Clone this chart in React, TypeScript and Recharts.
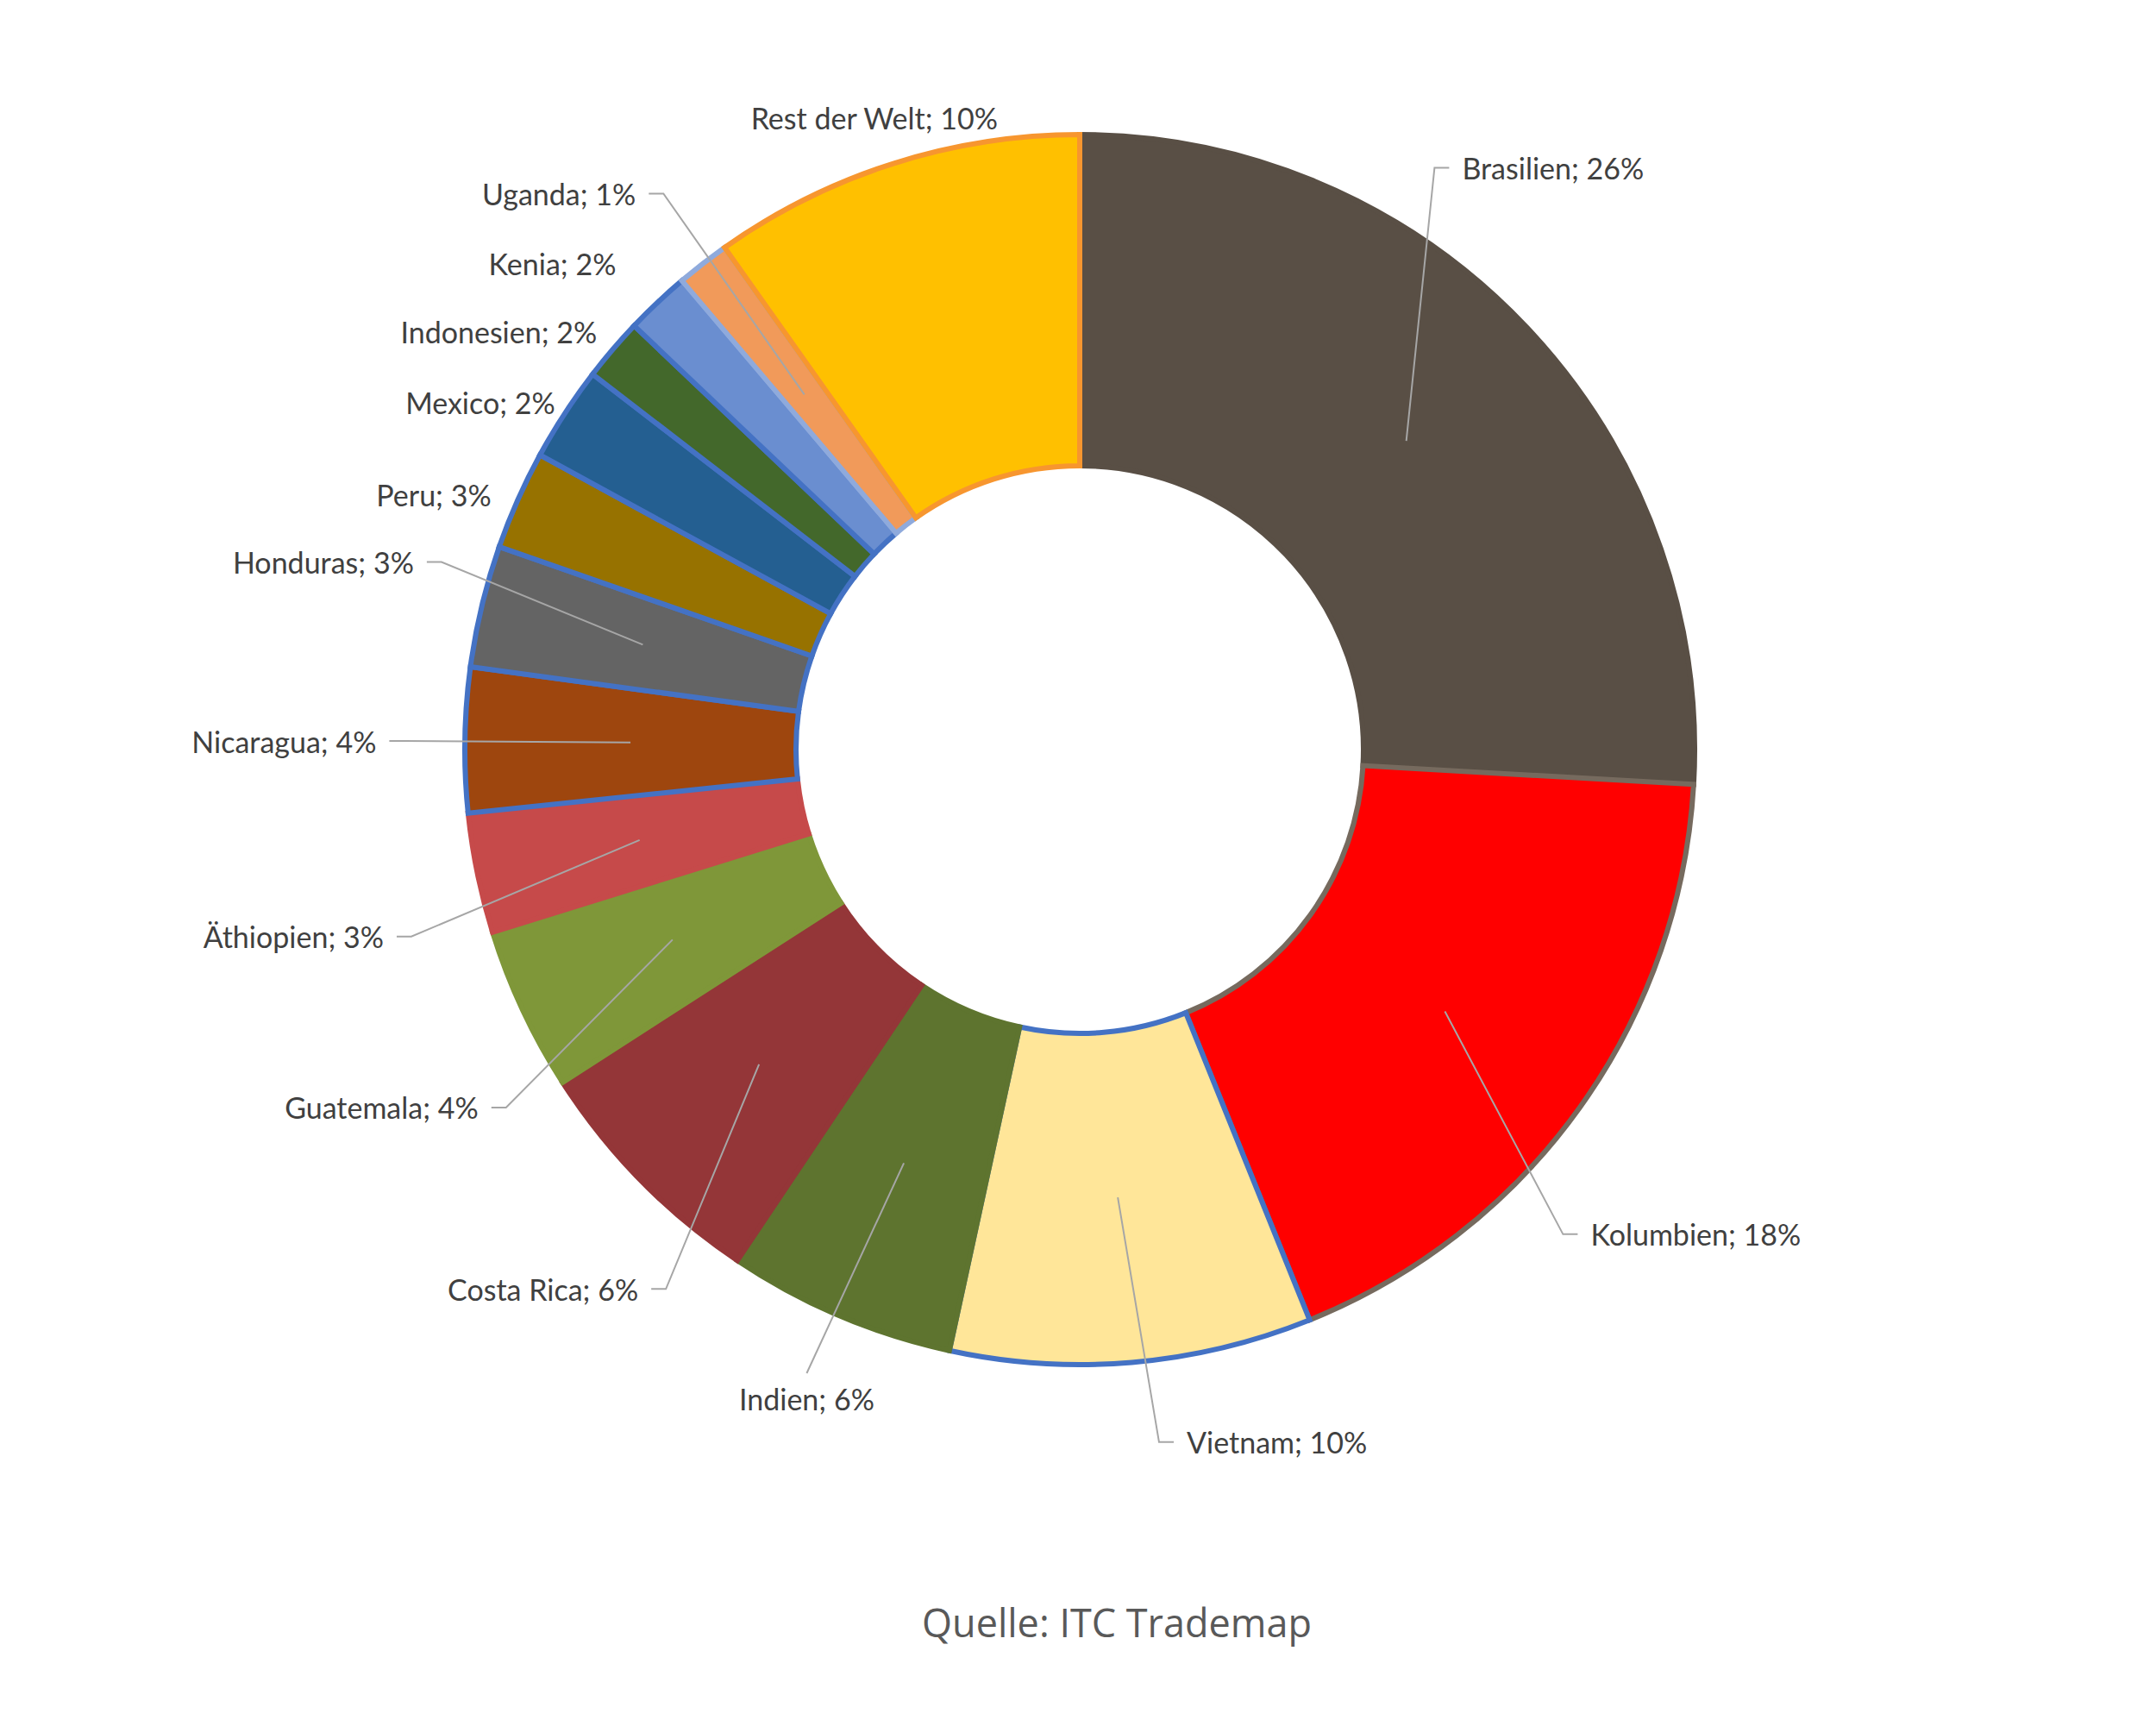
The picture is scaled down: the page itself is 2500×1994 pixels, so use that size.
import { PieChart, Pie, Cell } from 'recharts';

const COUNTRIES = [
  'Brasilien', 'Kolumbien', 'Vietnam', 'Indien', 'Costa Rica', 'Guatemala', 'Äthiopien',
  'Nicaragua', 'Honduras', 'Peru', 'Mexico', 'Indonesien', 'Kenia', 'Uganda', 'Rest der Welt',
];
// slice sizes (percent)
const SHARES = [25.9, 18.0, 9.5, 6.0, 6.5, 4.3, 3.15, 3.8, 3.2, 2.6, 2.5, 1.65, 1.7, 1.4, 9.8];
// percentages as printed in the labels
const SHARE_LABELS = [26, 18, 10, 6, 6, 4, 3, 4, 3, 3, 2, 2, 2, 1, 10];

const FILLS = [
  '#594F45', '#FF0000', '#FFE699', '#5E742F', '#943638', '#7F9739', '#C64A4A',
  '#9E460E', '#646464', '#977200', '#245F91', '#43682B', '#6A8ED0', '#F19A5A', '#FFC000',
];
// slices without a visible border get a stroke in their own colour
const STROKES = [
  '#594F45', '#766A5E', '#4472C4', '#5E742F', '#943638', '#7F9739', '#C64A4A',
  '#4472C4', '#4472C4', '#4472C4', '#4472C4', '#4472C4', '#4472C4', '#8FAADC', '#F7962F',
];

// where each label sits, in outer radii from the centre
// r: leader + text to the right, l: leader + text to the left, b: leader + text below,
// t: text only (right aligned), c: text only (centred)
const LABEL_SPOTS: [number, number, string][] = [
  [0.577, -0.946, 'r'],
  [0.786, 0.788, 'r'],
  [0.129, 1.126, 'r'],
  [-0.444, 1.014, 'b'],
  [-0.673, 0.877, 'l'],
  [-0.933, 0.582, 'l'],
  [-1.087, 0.304, 'l'],
  [-1.099, -0.014, 'l'],
  [-1.038, -0.305, 'l'],
  [-0.957, -0.414, 't'],
  [-0.853, -0.564, 't'],
  [-0.785, -0.679, 't'],
  [-0.754, -0.790, 't'],
  [-0.677, -0.904, 'l'],
  [-0.334, -1.027, 'c'],
];

const data = COUNTRIES.map((name, i) => ({ name, value: SHARES[i] }));

const RAD = Math.PI / 180;
const LABEL_FONT = 'Lato, "Noto Sans", sans-serif';

function renderLabel(props: any) {
  const { cx, cy, midAngle, innerRadius, outerRadius, index } = props;
  const [fx, fy, kind] = LABEL_SPOTS[index];
  const ex = cx + fx * outerRadius;
  const ey = cy + fy * outerRadius;
  const rm = (innerRadius + outerRadius) / 2;
  const sx = cx + rm * Math.cos(-midAngle * RAD);
  const sy = cy + rm * Math.sin(-midAngle * RAD);
  const text = `${COUNTRIES[index]}; ${SHARE_LABELS[index]}%`;
  const txt = (x: number, y: number, anchor: string) => (
    <text x={x} y={y} textAnchor={anchor} dominantBaseline="central" fill="#404040"
      fontFamily={LABEL_FONT} fontSize={34}>{text}</text>
  );
  const line = '#A6A6A6';

  if (kind === 't') return <g key={index}>{txt(ex, ey, 'end')}</g>;
  if (kind === 'c') return <g key={index}>{txt(ex, ey, 'middle')}</g>;
  if (kind === 'b') {
    return (
      <g key={index}>
        <polyline points={`${sx},${sy} ${ex},${ey}`} stroke={line} strokeWidth={2} fill="none" />
        {txt(ex, ey + 30, 'middle')}
      </g>
    );
  }
  const dir = kind === 'r' ? 1 : -1;
  const hx = ex + dir * 17;
  return (
    <g key={index}>
      <polyline points={`${sx},${sy} ${ex},${ey} ${hx},${ey}`} stroke={line} strokeWidth={2} fill="none" />
      {txt(hx + dir * 15, ey, dir > 0 ? 'start' : 'end')}
    </g>
  );
}

export default function App() {
  return (
    <div style={{ position: 'absolute', left: 0, top: 0, width: 2500, height: 1994, background: '#fff' }}>
      <PieChart width={2500} height={1994}>
        <Pie
          data={data}
          dataKey="value"
          nameKey="name"
          cx={1247}
          cy={864}
          innerRadius={329}
          outerRadius={713}
          startAngle={90}
          endAngle={-270}
          label={renderLabel}
          labelLine={false}
          isAnimationActive={false}
        >
          {data.map((d, i) => (
            <Cell key={d.name} fill={FILLS[i]} stroke={STROKES[i]} strokeWidth={6} />
          ))}
        </Pie>
      </PieChart>
      <svg width={2500} height={1994} style={{ position: 'absolute', left: 0, top: 0, pointerEvents: 'none' }}>
        <text x={1295} y={1898} textAnchor="middle" fill="#595959" fontFamily='"Open Sans", sans-serif' fontSize={45}>
          Quelle: ITC Trademap
        </text>
      </svg>
    </div>
  );
}
